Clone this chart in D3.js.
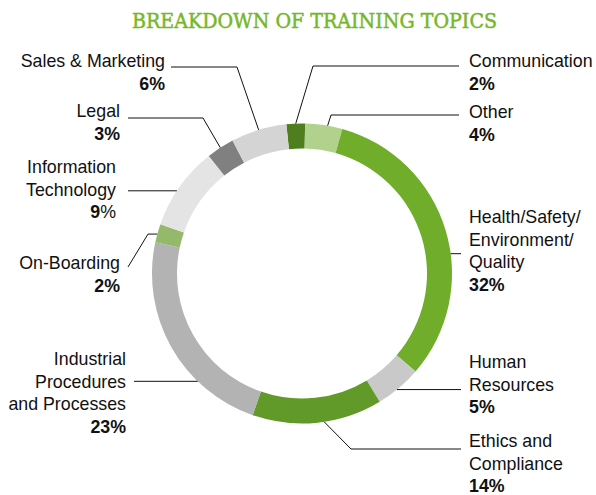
<!DOCTYPE html>
<html>
<head>
<meta charset="utf-8">
<script src="https://cdn.jsdelivr.net/npm/d3@7"></script>
<style>
	body { margin: 0; background: #fff; }
	svg text { font-family: "Liberation Sans", Arial, sans-serif; fill: #111; }
</style>
</head>
<body>
<div id="chart"></div>
<script>
// slices go clockwise from just left of 12 o'clock
const categories = ["Communication", "Other", "Health/Safety/Environment/Quality", "Human Resources",
	"Ethics and Compliance", "Industrial Procedures and Processes", "On-Boarding",
	"Information Technology", "Legal", "Sales & Marketing"];
const values = [2, 4, 32, 5, 14, 23, 2, 9, 3, 6];
const valueLabels = ["2%", "4%", "32%", "5%", "14%", "23%", "2%", "9%", "3%", "6%"];
const colors = ["#4f7e1e", "#b1d28c", "#6fad2a", "#c9c9c9", "#629a29", "#b3b3b3", "#95b96b",
	"#e4e4e4", "#808080", "#d4d4d4"];

const canvas_width = 596;
const canvas_height = 495;
const cx = 302, cy = 273.5;
const outerR = 150, innerR = 125;
const lineH = 22.6;

// label layout: text lines, where the text sits, where the leader touches the slice (t) and bends
const labelLayout = [
	{lines: ["Communication"], side: "r", x: 469, y: 67, t: 0.5, leader: [[313, 66], [459, 66]]},
	{lines: ["Other"], side: "r", x: 469, y: 118, t: 0.6, leader: [[331, 115], [459, 115]]},
	{lines: ["Health/Safety/", "Environment/", "Quality"], side: "r", x: 469, y: 223, t: 0.58, leader: [[461, null]]},
	{lines: ["Human", "Resources"], side: "r", x: 469, y: 368, t: 0.55, leader: [[461, null]]},
	{lines: ["Ethics and", "Compliance"], side: "r", x: 469, y: 447, t: 0.45, leader: [[351, 449], [461, 449]]},
	{lines: ["Industrial", "Procedures", "and Processes"], side: "l", x: 126, y: 365, t: 0.3, leader: [[134, null]]},
	{lines: ["On-Boarding"], side: "l", x: 120, y: 269, t: 0.45, leader: [[148, null], [128, 267]]},
	{lines: ["Information", "Technology"], side: "l", x: 116, y: 173, t: 0.44, leader: [[128, null]], splitPct: true},
	{lines: ["Legal"], side: "l", x: 120, y: 117, t: 0.5, leader: [[203, 118], [128, 118]]},
	{lines: ["Sales & Marketing"], side: "l", x: 165, y: 67, t: 0.5, leader: [[237, 67], [171, 67]]}
];

const svg = d3.select("#chart")
	.append("svg")
		.attr("width", canvas_width)
		.attr("height", canvas_height);

// title
svg.append("text")
	.attr("x", 132)
	.attr("y", 28)
	.attr("textLength", 365)
	.attr("lengthAdjust", "spacingAndGlyphs")
	.style("font-family", "'DejaVu Serif', serif")
	.style("font-size", "20px")
	.style("fill", "#76b72a")
	.style("stroke", "#76b72a")
	.style("stroke-width", 0.5)
	.text("BREAKDOWN OF TRAINING TOPICS");

const startAngle = -6 * Math.PI / 180;
const pie = d3.pie()
	.sort(null)
	.value(d => d)
	.startAngle(startAngle)
	.endAngle(startAngle + 2 * Math.PI);
const arcs = pie(values);

const arc = d3.arc()
	.innerRadius(innerR)
	.outerRadius(outerR);

const g = svg.append("g")
	.attr("transform", "translate(" + cx + "," + cy + ")");

g.selectAll("path")
	.data(arcs)
	.enter()
	.append("path")
		.attr("d", arc)
		.attr("fill", (d, i) => colors[i]);

// leader lines
arcs.forEach((d, i) => {
	const lay = labelLayout[i];
	const a = d.startAngle + (d.endAngle - d.startAngle) * lay.t;
	const p0 = [cx + outerR * Math.sin(a), cy - outerR * Math.cos(a)];
	const pts = [p0].concat(lay.leader.map(p => [p[0], p[1] == null ? p0[1] : p[1]]));
	svg.append("path")
		.attr("d", d3.line()(pts))
		.attr("fill", "none")
		.attr("stroke", "#111")
		.attr("stroke-width", 1);
});

// labels
labelLayout.forEach((lay, i) => {
	const txt = svg.append("text")
		.attr("text-anchor", lay.side == "l" ? "end" : "start")
		.style("font-size", "17.8px");
	lay.lines.forEach((line, j) => {
		txt.append("tspan")
			.attr("x", lay.x)
			.attr("y", lay.y + j * lineH)
			.text(line);
	});
	const pct = txt.append("tspan")
		.attr("x", lay.x)
		.attr("y", lay.y + lay.lines.length * lineH);
	if (lay.splitPct) {
		// the source sets only the digit in bold here
		pct.append("tspan").style("font-weight", "bold").text(valueLabels[i].replace("%", ""));
		pct.append("tspan").text("%");
	} else {
		pct.style("font-weight", "bold").text(valueLabels[i]);
	}
});
</script>
</body>
</html>
